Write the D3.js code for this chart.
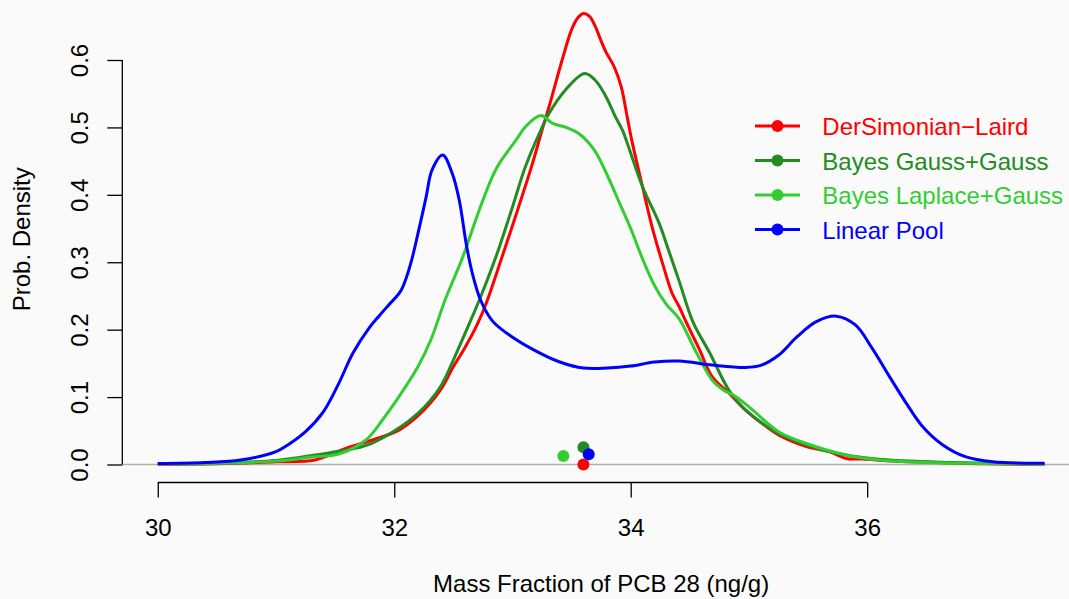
<!DOCTYPE html>
<html>
<head>
<meta charset="utf-8">
<script src="https://cdn.jsdelivr.net/npm/d3@7"></script>
<style>
  html, body { margin: 0; padding: 0; background: #fafafa; }
  svg { display: block; font-family: "Liberation Sans", Arial, sans-serif; }
</style>
</head>
<body>
<svg id="chart" width="1069" height="599"></svg>
<script>
// 图例名称
const seriesNames = ['DerSimonian\u2212Laird', 'Bayes Gauss+Gauss', 'Bayes Laplace+Gauss', 'Linear Pool'];
const seriesColors = ['#ff0000', '#228b22', '#32cd32', '#0000ff'];

// density curves, [x, density]
const dslCurve = [[30.0,0.0005],[30.5,0.001],[31.0,0.004],[31.33,0.0067],[31.59,0.024],[31.81,0.036],[32.04,0.051],
  [32.2,0.072],[32.3,0.09],[32.4,0.113],[32.5,0.145],[32.6,0.174],[32.7,0.207],[32.78,0.240],[32.91,0.307],
  [33.05,0.381],[33.17,0.447],[33.25,0.496],[33.31,0.531],[33.42,0.600],[33.5,0.645],[33.55,0.662],[33.6,0.669],
  [33.65,0.665],[33.7,0.650],[33.75,0.628],[33.79,0.612],[33.86,0.590],[33.92,0.560],[33.97,0.516],[34.01,0.48],
  [34.10,0.412],[34.18,0.353],[34.27,0.298],[34.35,0.254],[34.41,0.234],[34.47,0.211],[34.58,0.171],[34.69,0.130],
  [34.83,0.106],[34.97,0.081],[35.11,0.061],[35.25,0.044],[35.48,0.027],[35.68,0.019],[35.82,0.009],[35.96,0.008],
  [36.24,0.005],[36.6,0.003],[37.0,0.001],[37.5,0.0003]];

const gaussCurve = [[30.0,0.001],[30.5,0.002],[31.0,0.006],[31.33,0.014],[31.67,0.024],[31.81,0.0315],[32.04,0.054],
  [32.2,0.076],[32.3,0.094],[32.4,0.118],[32.5,0.155],[32.6,0.195],[32.72,0.244],[32.86,0.308],[33.0,0.382],
  [33.11,0.442],[33.24,0.496],[33.31,0.521],[33.45,0.556],[33.61,0.580],[33.70,0.570],[33.79,0.546],[33.87,0.516],
  [33.93,0.496],[33.99,0.467],[34.10,0.412],[34.24,0.358],[34.32,0.318],[34.41,0.272],[34.53,0.21],[34.67,0.165],
  [34.83,0.1105],[34.97,0.081],[35.25,0.046],[35.54,0.026],[35.82,0.014],[36.1,0.0077],[36.5,0.004],[37.0,0.002],
  [37.5,0.001]];

const laplaceCurve = [[30.0,0.001],[30.5,0.002],[31.0,0.005],[31.3,0.011],[31.53,0.0156],[31.76,0.0364],[31.90,0.066],
  [32.04,0.1006],[32.2,0.145],[32.31,0.185],[32.43,0.244],[32.58,0.308],[32.72,0.378],[32.83,0.427],[32.89,0.447],
  [32.97,0.467],[33.03,0.481],[33.11,0.501],[33.24,0.5175],[33.34,0.506],[33.46,0.4997],[33.56,0.491],[33.69,0.467],
  [33.82,0.422],[33.9,0.39],[34.0,0.35],[34.1,0.305],[34.2,0.266],[34.3,0.238],[34.41,0.216],[34.55,0.168],
  [34.69,0.125],[34.78,0.111],[34.89,0.1006],[35.03,0.081],[35.25,0.0487],[35.48,0.0315],[35.82,0.014],[36.1,0.0067],
  [36.5,0.003],[37.0,0.0015],[37.5,0.0005]];

const poolCurve = [[30.0,0.0015],[30.4,0.003],[30.7,0.0067],[31.0,0.019],[31.1,0.029],[31.25,0.0487],[31.4,0.078],
  [31.53,0.120],[31.65,0.165],[31.79,0.203],[31.87,0.220],[31.95,0.236],[32.05,0.256],[32.10,0.276],[32.15,0.305],
  [32.2,0.342],[32.27,0.397],[32.32,0.437],[32.41,0.459],[32.49,0.432],[32.55,0.392],[32.61,0.326],[32.66,0.284],
  [32.73,0.244],[32.83,0.213],[32.95,0.195],[33.18,0.170],[33.4,0.152],[33.6,0.143],[33.8,0.143],[34.0,0.146],
  [34.2,0.152],[34.41,0.1535],[34.69,0.1476],[34.97,0.144],[35.1,0.147],[35.25,0.162],[35.41,0.19],[35.57,0.212],
  [35.74,0.220],[35.90,0.207],[36.04,0.173],[36.19,0.130],[36.33,0.091],[36.47,0.056],[36.64,0.029],[36.83,0.0116],
  [37.06,0.004],[37.5,0.002]];

// consensus estimates drawn at the foot of the curves
const estimateX = [33.60, 33.60, 33.43, 33.645];
const estimateY = [0, 0.0255, 0.0126, 0.0151];

const xTicks = [30, 32, 34, 36];
const yTicks = [0, 0.1, 0.2, 0.3, 0.4, 0.5, 0.6];
const xTitle = 'Mass Fraction of PCB 28 (ng/g)';
const yTitle = 'Prob. Density';

/*尺寸*/
const plot = {left: 122.3, right: 1080, top: -4, bottom: 482.5};
const fontSize = 24;

const svg = d3.select('#chart');

const x = d3.scaleLinear().domain([29.7, 37.8]).range([plot.left, plot.right]);
const y = d3.scaleLinear().domain([0, 0.6]).range([464.5, 60]);

svg.append('rect').attr('width', 1069).attr('height', 599).attr('fill', '#fafafa');

svg.append('defs').append('clipPath').attr('id', 'plotClip')
  .append('rect')
  .attr('x', plot.left).attr('y', plot.top)
  .attr('width', plot.right - plot.left).attr('height', plot.bottom - plot.top);

// abline(h = 0)
svg.append('line')
  .attr('x1', plot.left).attr('x2', 1069)
  .attr('y1', y(0)).attr('y2', y(0))
  .attr('stroke', '#b0b0b0').attr('stroke-width', 1.5);

/*曲线*/
const line = d3.line()
  .x(d => x(d[0]))
  .y(d => Math.min(y(0), y(d[1])))
  .curve(d3.curveCatmullRom.alpha(0.5));

const curves = [dslCurve, gaussCurve, laplaceCurve, poolCurve];
svg.append('g').attr('clip-path', 'url(#plotClip)')
  .selectAll('path')
  .data(curves)
  .enter()
  .append('path')
  .attr('d', line)
  .attr('fill', 'none')
  .attr('stroke', (d, i) => seriesColors[i])
  .attr('stroke-width', 3)
  .attr('stroke-linejoin', 'round');

// points
svg.append('g')
  .selectAll('circle')
  .data(estimateX)
  .enter()
  .append('circle')
  .attr('cx', d => x(d))
  .attr('cy', (d, i) => y(estimateY[i]))
  .attr('r', 6)
  .attr('fill', (d, i) => seriesColors[i]);

/*坐标轴*/
const xAxis = svg.append('g')
  .attr('transform', `translate(0,${plot.bottom})`)
  .call(d3.axisBottom(x).tickValues(xTicks).tickSize(15).tickSizeOuter(0).tickFormat(d3.format('d')));
xAxis.select('.domain').remove();
xAxis.append('line')
  .attr('x1', x(xTicks[0])).attr('x2', x(xTicks[xTicks.length - 1]))
  .attr('stroke', '#000').attr('stroke-width', 1.3);
xAxis.selectAll('.tick line').attr('stroke', '#000').attr('stroke-width', 1.3);
xAxis.selectAll('.tick text')
  .attr('y', 53.2).attr('dy', null)
  .attr('fill', '#000')
  .style('font-size', fontSize + 'px')
  .style('font-family', '"Liberation Sans", Arial, sans-serif');

const yAxis = svg.append('g')
  .attr('transform', `translate(${plot.left},0)`)
  .call(d3.axisLeft(y).tickValues(yTicks).tickSize(15).tickSizeOuter(0).tickFormat(d3.format('.1f')));
yAxis.select('.domain').remove();
yAxis.append('line')
  .attr('y1', y(yTicks[0])).attr('y2', y(yTicks[yTicks.length - 1]))
  .attr('stroke', '#000').attr('stroke-width', 1.3);
yAxis.selectAll('.tick line').attr('stroke', '#000').attr('stroke-width', 1.3);
yAxis.selectAll('.tick text')
  .attr('transform', 'rotate(-90)')
  .attr('x', 0).attr('y', -34).attr('dy', null)
  .attr('text-anchor', 'middle')
  .attr('fill', '#000')
  .style('font-size', fontSize + 'px')
  .style('font-family', '"Liberation Sans", Arial, sans-serif');

// axis titles
svg.append('text')
  .attr('x', (plot.left + plot.right) / 2).attr('y', 591.7)
  .attr('text-anchor', 'middle')
  .style('font-size', fontSize + 'px')
  .text(xTitle);

svg.append('text')
  .attr('transform', `translate(30,${(plot.top + plot.bottom) / 2}) rotate(-90)`)
  .attr('text-anchor', 'middle')
  .style('font-size', fontSize + 'px')
  .text(yTitle);

/*图例*/
const legend = svg.append('g')
  .selectAll('g')
  .data(seriesNames)
  .enter()
  .append('g')
  .attr('transform', (d, i) => `translate(0,${126 + i * 34.5})`);

legend.append('line')
  .attr('x1', 755).attr('x2', 800)
  .attr('stroke', (d, i) => seriesColors[i])
  .attr('stroke-width', 3);
legend.append('circle')
  .attr('cx', 777.5).attr('r', 6)
  .attr('fill', (d, i) => seriesColors[i]);
legend.append('text')
  .attr('x', 822.3).attr('y', 9)
  .attr('fill', (d, i) => seriesColors[i])
  .style('font-size', fontSize + 'px')
  .text(d => d);
</script>
</body>
</html>
